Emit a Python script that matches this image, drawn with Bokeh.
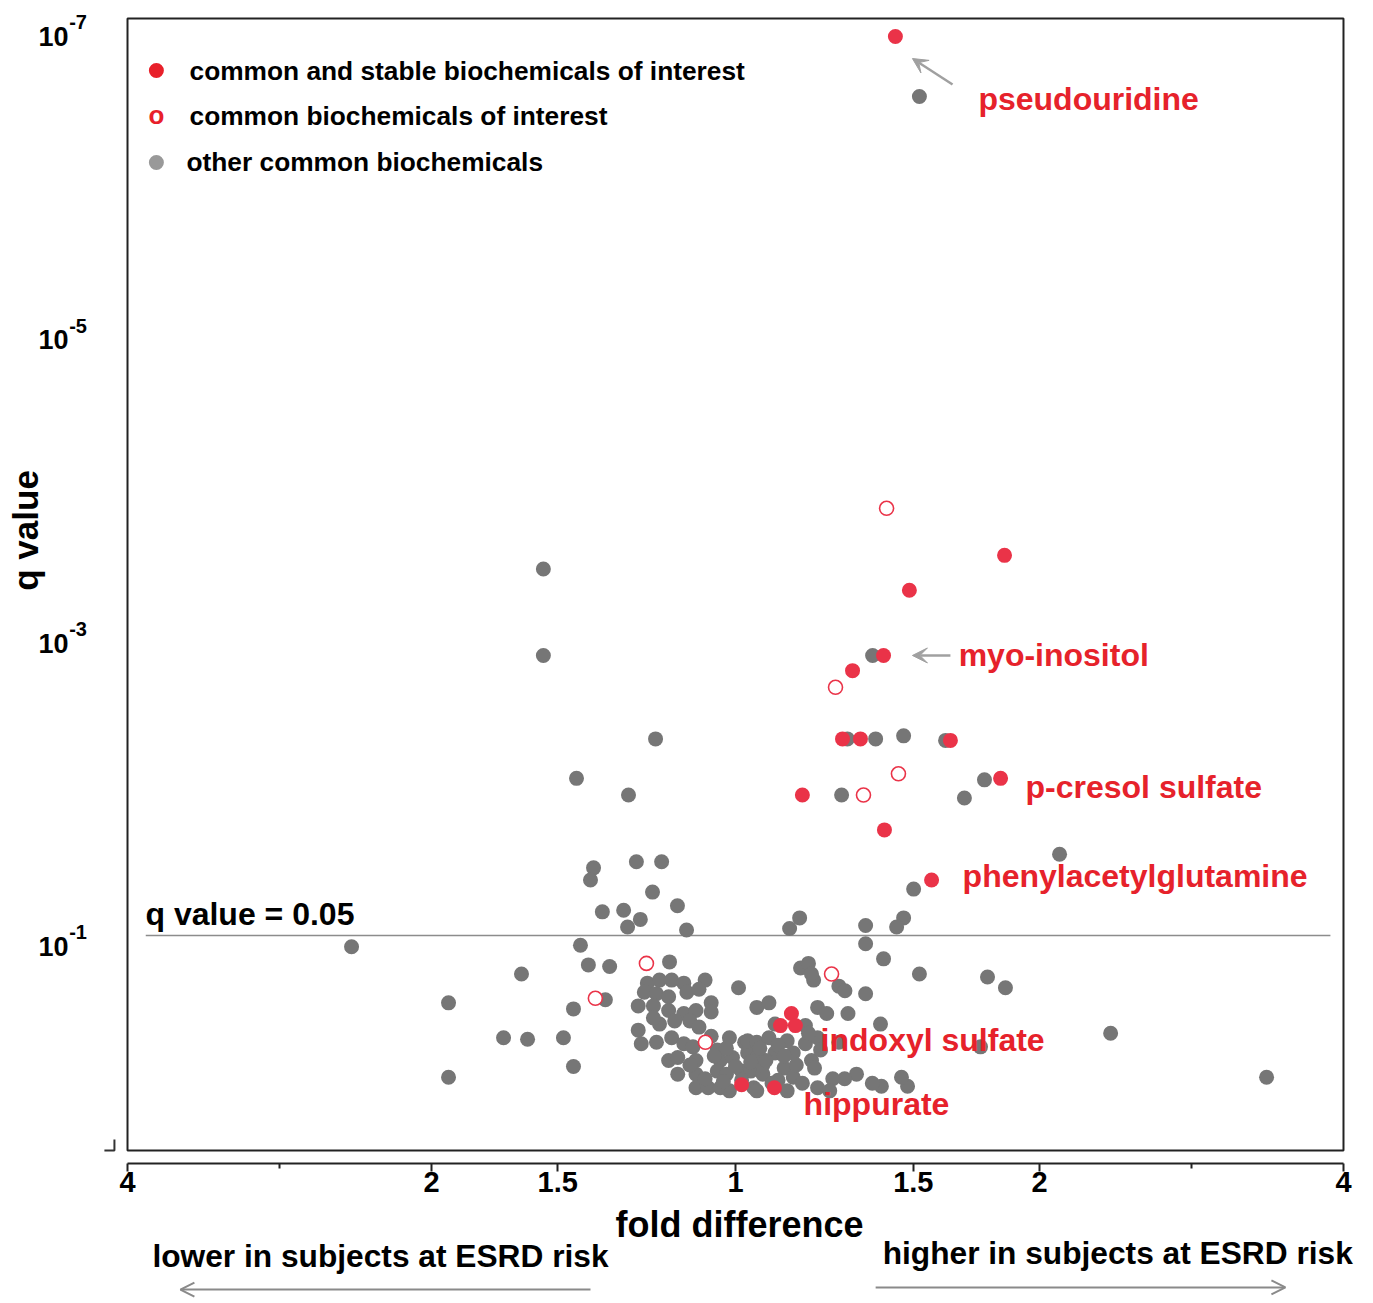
import numpy as np
from bokeh.plotting import figure
from bokeh.layouts import column
from bokeh.models import Range1d, FixedTicker, Label, Arrow, VeeHead, OpenHead, BoxAnnotation
from bokeh.embed import file_html
from bokeh.resources import INLINE

# ---------------- data: x = log2(fold difference), y = -log10(q value) ----------------
stable_x = [0.526, 0.885, 0.572, 0.487, 0.385, 0.352, 0.411, 0.707, 0.872, 0.220,
            0.490, 0.645, 0.148, 0.184, 0.197, 0.020, 0.128]
stable_y = [6.98, 3.56, 3.33, 2.90, 2.80, 2.35, 2.35, 2.34, 2.09, 1.98,
            1.75, 1.42, 0.46, 0.54, 0.46, 0.07, 0.05]

interest_x = [0.497, 0.329, 0.536, 0.421, -0.293, 0.316, -0.461, -0.099]
interest_y = [3.87, 2.69, 2.12, 1.98, 0.87, 0.80, 0.64, 0.35]

other_x = [0.605, -0.632, -0.632, 0.451, -0.263, 0.368, 0.461, 0.553, 0.691, -0.523,
           0.819, -0.352, 0.349, 0.753, 1.066, -0.467, -0.477, -0.326, -0.243, -0.273,
           0.586, -0.438, -0.368, -0.313, -0.191, -0.355, -0.161, 0.211, 0.178, 0.428,
           0.553, 0.530, -1.263, -0.510, 0.428, 0.487, -0.484, -0.414, -0.704, -0.217,
           0.214, 0.240, 0.257, 0.605, 0.829, 0.888, -0.944, -0.428, -0.533, 0.428,
           0.477, 1.234, -0.763, -0.684, -0.566, 0.806, -0.533, -0.944, 1.747, 0.480,
           0.566, 0.546, 0.398, 0.359,
           -0.29, -0.25, -0.21, -0.17, -0.10, -0.30, -0.26, -0.22, -0.16, -0.12,
           -0.08, -0.32, -0.27, -0.22, -0.17, -0.13, -0.08, -0.25, -0.20, -0.15,
           -0.12, -0.32, -0.31, -0.26, -0.21, -0.17, -0.14, -0.06, -0.02, 0.03,
           -0.22, -0.19, -0.13, -0.05, -0.01, 0.04, -0.19, -0.13, -0.06, -0.03,
           0.02, -0.13, -0.09, -0.05, -0.02, 0.06, 0.01, 0.07, 0.11, 0.25,
           0.34, 0.36, 0.27, 0.30, 0.37, 0.23, 0.13, 0.04, 0.07, 0.11,
           0.17, 0.23, 0.27, 0.34, 0.07, 0.13, 0.19, 0.25, 0.05, 0.09,
           0.16, 0.19, 0.26, 0.32, 0.45, 0.07, 0.17, 0.27, 0.31, -0.08,
           -0.03, 0.09, 0.14, 0.24, -0.15, -0.10, -0.27, 0.14, 0.20, 0.02,
           0.28, -0.04, 0.00, 0.05, 0.10, 0.12, -0.07, 0.08, 0.16, 0.22]
other_y = [6.585, 3.47, 2.90, 2.90, 2.35, 2.35, 2.35, 2.37, 2.34, 2.09,
           2.08, 1.98, 1.98, 1.96, 1.59, 1.50, 1.42, 1.54, 1.54, 1.34,
           1.36, 1.21, 1.22, 1.16, 1.25, 1.11, 1.09, 1.17, 1.10, 1.12,
           1.17, 1.11, 0.98, 0.99, 1.00, 0.90, 0.86, 0.85, 0.80, 0.88,
           0.84, 0.87, 0.76, 0.80, 0.78, 0.71, 0.61, 0.63, 0.57, 0.67,
           0.47, 0.41, 0.38, 0.37, 0.38, 0.32, 0.19, 0.12, 0.12, 0.06,
           0.06, 0.12, 0.14, 0.11,
           0.74, 0.76, 0.76, 0.74, 0.76, 0.68, 0.67, 0.65, 0.68, 0.70,
           0.61, 0.59, 0.59, 0.56, 0.54, 0.56, 0.55, 0.47, 0.49, 0.49,
           0.45, 0.43, 0.34, 0.35, 0.38, 0.34, 0.32, 0.30, 0.38, 0.35,
           0.23, 0.25, 0.23, 0.23, 0.25, 0.28, 0.14, 0.14, 0.16, 0.14,
           0.16, 0.05, 0.05, 0.05, 0.03, 0.05, 0.71, 0.58, 0.61, 0.80,
           0.72, 0.69, 0.58, 0.54, 0.54, 0.46, 0.47, 0.36, 0.35, 0.38,
           0.36, 0.34, 0.38, 0.35, 0.25, 0.28, 0.28, 0.23, 0.16, 0.14,
           0.18, 0.12, 0.18, 0.11, 0.08, 0.03, 0.03, 0.05, 0.03, 0.39,
           0.31, 0.20, 0.10, 0.41, 0.20, 0.11, 0.51, 0.33, 0.20, 0.10,
           0.30, 0.09, 0.19, 0.22, 0.23, 0.08, 0.26, 0.31, 0.26, 0.08]

# y-axis tick values (-log10 q) and their labels (10 with superscript exponent)
y_tick_vals = [7, 5, 3, 1]
y_tick_sup = ["-7", "-5", "-3", "-1"]

# x-axis ticks: fold difference on a log2 scale, mirrored around 1
fold_values = [4, 2, 1.5, 1, 1.5, 2, 4]
fold_sign = [-1, -1, -1, 0, 1, 1, 1]
x_tick_labels = ["4", "2", "1.5", "1", "1.5", "2", "4"]
x_ticks = [float(s * np.log2(v)) for s, v in zip(fold_sign, fold_values)]
x_minor = [-1.5, 1.5]

threshold_y = 1.054   # the "q value = 0.05" line, at the height where the original draws it

annotations = [
    ("pseudouridine", 0.799, 6.571),
    ("myo-inositol", 0.734, 2.906),
    ("p-cresol sulfate", 0.954, 2.036),
    ("phenylacetylglutamine", 0.747, 1.443),
    ("indoxyl sulfate", 0.280, 0.362),
    ("hippurate", 0.224, -0.060),
]

FONT = "Liberation Sans"
RED_TEXT = "#E6222B"
RED_DOT = "#EA3348"
GREY = "#767676"

XR = Range1d(-2.4178, 2.0724)

p = figure(width=1365, height=1205, output_backend="svg", toolbar_location=None,
           x_range=XR, y_range=Range1d(-0.449, 7.2175),
           min_border_left=0, min_border_right=0, min_border_top=0,
           min_border_bottom=42, y_axis_location=None)
p.title.visible = False
p.outline_line_color = None
p.grid.visible = False
p.background_fill_color = "white"
p.border_fill_color = "white"

# plot box
p.add_layout(BoxAnnotation(left=-2, right=2, bottom=-0.363, top=7.099,
                           fill_alpha=0, line_color="#222222", line_alpha=1.0, line_width=2))
p.line([-2.076, -2.043, -2.043], [-0.363, -0.363, -0.291], line_color="#333333", line_width=2)

# x axis
ax = p.xaxis[0]
ax.bounds = (-2, 2)
ax.ticker = FixedTicker(ticks=x_ticks, minor_ticks=x_minor)
ax.major_label_overrides = {t: l for t, l in zip(x_ticks, x_tick_labels)}
ax.axis_line_width = 2
ax.axis_line_color = "#222222"
ax.major_tick_in = 0
ax.major_tick_out = 8
ax.minor_tick_in = 0
ax.minor_tick_out = 5
ax.major_tick_line_width = 2
ax.minor_tick_line_width = 2
ax.major_tick_line_color = "#222222"
ax.minor_tick_line_color = "#222222"
ax.major_label_text_font = FONT
ax.major_label_text_font_style = "bold"
ax.major_label_text_font_size = "29px"
ax.major_label_text_color = "black"
ax.major_label_standoff = 0

# threshold line
p.line([-1.94, 1.957], [threshold_y, threshold_y], line_color="#8c8c8c", line_width=1.5)

# points
p.scatter(other_x, other_y, size=15, fill_color=GREY, line_color=None)
p.scatter(interest_x, interest_y, size=14, fill_color="white", line_color=RED_DOT, line_width=1.6)
p.scatter(stable_x, stable_y, size=15, fill_color=RED_DOT, line_color=None)


def lab(fig, text, x, y, size, color="black", align="left", baseline="middle", angle=0.0):
    fig.add_layout(Label(x=x, y=y, text=text, text_font=FONT, text_font_style="bold",
                         text_font_size=size, text_color=color, text_align=align,
                         text_baseline=baseline, angle=angle))


# y tick labels
for v, s in zip(y_tick_vals, y_tick_sup):
    lab(p, "10", -2.194, v - 0.02, "27px", align="right")
    lab(p, s, -2.192, v + 0.075, "20px", align="left")

# y axis title
lab(p, "q value", -2.336, 3.724, "35px", align="center", angle=np.pi / 2)

# legend (manual)
p.scatter([-1.905], [6.756], size=15, fill_color="#E8202A", line_color=None)
lab(p, "o", -1.905, 6.46, "26px", color="#E8202A", align="center")
p.scatter([-1.905], [6.150], size=15, fill_color="#999999", line_color=None)
lab(p, "common and stable biochemicals of interest", -1.796, 6.756, "26.3px")
lab(p, "common biochemicals of interest", -1.796, 6.453, "26.3px")
lab(p, "other common biochemicals", -1.806, 6.150, "26.3px")

# threshold label
lab(p, "q value = 0.05", -1.941, 1.199, "32px")

# compound annotations
for t, x, y in annotations:
    lab(p, t, x, y, "32px", color=RED_TEXT)

p.add_layout(Arrow(end=VeeHead(size=15, fill_color="#a0a0a0", line_color="#a0a0a0"),
                   x_start=0.714, y_start=6.664, x_end=0.582, y_end=6.835,
                   line_color="#a0a0a0", line_width=2.5))
p.add_layout(Arrow(end=VeeHead(size=15, fill_color="#a0a0a0", line_color="#a0a0a0"),
                   x_start=0.707, y_start=2.900, x_end=0.582, y_end=2.900,
                   line_color="#a0a0a0", line_width=2.5))

# ---------------- strip below the axis: axis title and direction captions ----------------
p2 = figure(width=1365, height=95, output_backend="svg", toolbar_location=None,
            x_range=XR, y_range=Range1d(-1.3521, -0.7258),
            min_border_left=0, min_border_right=0, min_border_top=0, min_border_bottom=0,
            x_axis_location=None, y_axis_location=None)
p2.title.visible = False
p2.outline_line_color = None
p2.grid.visible = False
p2.background_fill_color = "white"
p2.border_fill_color = "white"

lab(p2, "fold difference", 0.013, -0.850, "36px", align="center")
lab(p2, "lower in subjects at ESRD risk", -1.918, -1.062, "31.7px")
lab(p2, "higher in subjects at ESRD risk", 0.484, -1.036, "31.7px")
p2.add_layout(Arrow(end=OpenHead(size=14, line_color="#8a8a8a", line_width=2),
                    x_start=-0.477, y_start=-1.280, x_end=-1.826, y_end=-1.280,
                    line_color="#8a8a8a", line_width=2))
p2.add_layout(Arrow(end=OpenHead(size=14, line_color="#8a8a8a", line_width=2),
                    x_start=0.461, y_start=-1.266, x_end=1.809, y_end=-1.266,
                    line_color="#8a8a8a", line_width=2))

layout = column(p, p2, spacing=0)
open("out.html", "w").write(file_html(layout, INLINE))
